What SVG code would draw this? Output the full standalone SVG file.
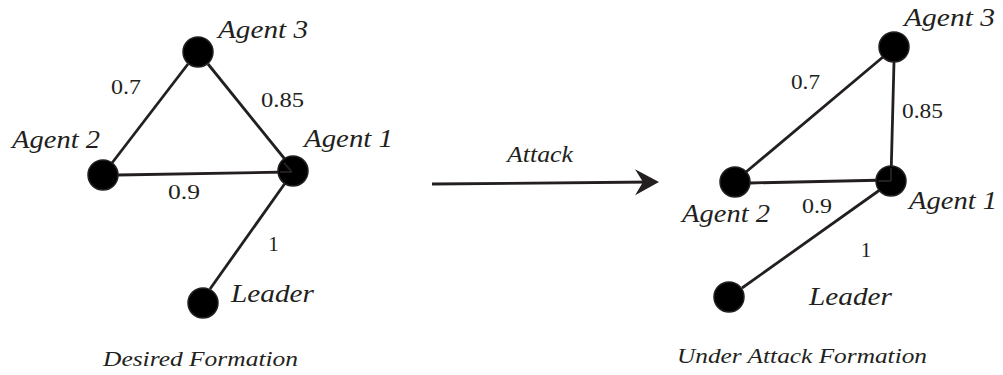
<svg xmlns="http://www.w3.org/2000/svg" width="1003" height="375" viewBox="0 0 1003 375">
  <defs>
    <style>
      .node { fill: #000; stroke: #231f20; stroke-width: 1.5; }
      .edge { stroke: #231f20; stroke-width: 2.8; stroke-linecap: butt; fill: none; }
      text { font-family: "Liberation Serif", "DejaVu Serif", "Times New Roman", Times, serif; fill: #231f20; }
      .lbl { font-style: italic; font-size: 26px; }
      .num { font-size: 21px; }
      .cap { font-style: italic; font-size: 22px; }
      .arrowhead { fill: #231f20; }
    </style>
    <marker id="arr" markerUnits="userSpaceOnUse" markerWidth="30" markerHeight="30" refX="17" refY="13" orient="auto" viewBox="0 0 30 30">
      <path class="arrowhead" d="M0,0 L24,13 L0,26 L8,13 Z"/>
    </marker>
  </defs>

  <!-- Connectors -->
  <g id="connectors">
    <!-- left: desired formation -->
    <line class="edge" x1="188" y1="64" x2="112" y2="163"/>
    <line class="edge" x1="208" y1="64" x2="292" y2="168"/>
    <line class="edge" x1="118" y1="175" x2="290" y2="172"/>
    <line class="edge" x1="210" y1="289" x2="293" y2="172"/>
    <text class="num" x="111" y="94" textLength="30" lengthAdjust="spacingAndGlyphs">0.7</text>
    <text class="num" x="261" y="107" textLength="43" lengthAdjust="spacingAndGlyphs">0.85</text>
    <text class="num" x="168" y="199" textLength="32" lengthAdjust="spacingAndGlyphs">0.9</text>
    <text class="num" x="273.5" y="251" text-anchor="middle">1</text>

    <!-- attack arrow -->
    <line class="edge" x1="432" y1="184" x2="652" y2="182" marker-end="url(#arr)"/>
    <text class="cap" x="507" y="162" style="font-size:23px" textLength="66" lengthAdjust="spacingAndGlyphs">Attack</text>

    <!-- right: under attack formation -->
    <line class="edge" x1="883" y1="57" x2="746" y2="172"/>
    <line class="edge" x1="894" y1="62" x2="891" y2="178"/>
    <line class="edge" x1="750" y1="183" x2="889" y2="180"/>
    <line class="edge" x1="742" y1="288" x2="891" y2="182"/>
    <text class="num" x="791" y="89" textLength="29" lengthAdjust="spacingAndGlyphs">0.7</text>
    <text class="num" x="902" y="118" textLength="41" lengthAdjust="spacingAndGlyphs">0.85</text>
    <text class="num" x="802" y="213" textLength="30" lengthAdjust="spacingAndGlyphs">0.9</text>
    <text class="num" x="866" y="257" text-anchor="middle">1</text>
  </g>

  <!-- Left formation nodes -->
  <g id="L-agent3">
    <circle class="node" cx="198" cy="52" r="15"/>
    <text class="lbl" x="218" y="38" textLength="90" lengthAdjust="spacingAndGlyphs">Agent 3</text>
  </g>
  <g id="L-agent2">
    <circle class="node" cx="103" cy="175" r="15"/>
    <text class="lbl" x="12" y="148" textLength="88" lengthAdjust="spacingAndGlyphs">Agent 2</text>
  </g>
  <g id="L-agent1">
    <circle class="node" cx="293" cy="171" r="15"/>
    <text class="lbl" x="304" y="147" textLength="89" lengthAdjust="spacingAndGlyphs">Agent 1</text>
  </g>
  <g id="L-leader">
    <circle class="node" cx="203" cy="303" r="15"/>
    <text class="lbl" x="231" y="302" textLength="83" lengthAdjust="spacingAndGlyphs">Leader</text>
  </g>
  <g id="L-caption">
    <text class="cap" x="103" y="366" textLength="195" lengthAdjust="spacingAndGlyphs">Desired Formation</text>
  </g>

  <!-- Right formation nodes -->
  <g id="R-agent3">
    <circle class="node" cx="894" cy="47" r="15"/>
    <text class="lbl" x="904" y="26" textLength="91" lengthAdjust="spacingAndGlyphs">Agent 3</text>
  </g>
  <g id="R-agent2">
    <circle class="node" cx="735" cy="182" r="15"/>
    <text class="lbl" x="682" y="222" textLength="88" lengthAdjust="spacingAndGlyphs">Agent 2</text>
  </g>
  <g id="R-agent1">
    <circle class="node" cx="891" cy="181" r="15"/>
    <text class="lbl" x="909" y="209" textLength="88" lengthAdjust="spacingAndGlyphs">Agent 1</text>
  </g>
  <g id="R-leader">
    <circle class="node" cx="729" cy="297" r="15"/>
    <text class="lbl" x="809" y="305" textLength="83" lengthAdjust="spacingAndGlyphs">Leader</text>
  </g>
  <g id="R-caption">
    <text class="cap" x="677" y="363" textLength="250" lengthAdjust="spacingAndGlyphs">Under Attack Formation</text>
  </g>

  <!-- overlay strokes visible inside Agent 1 circles -->
  <g id="agent1-ticks">
    <line x1="284" y1="163" x2="292" y2="172" stroke="#231f20" stroke-width="2"/>
    <line x1="280" y1="172" x2="292" y2="172" stroke="#231f20" stroke-width="2"/>
    <line x1="891" y1="168" x2="891" y2="181" stroke="#231f20" stroke-width="2"/>
    <line x1="878" y1="181" x2="891" y2="181" stroke="#231f20" stroke-width="2"/>
  </g>
</svg>
